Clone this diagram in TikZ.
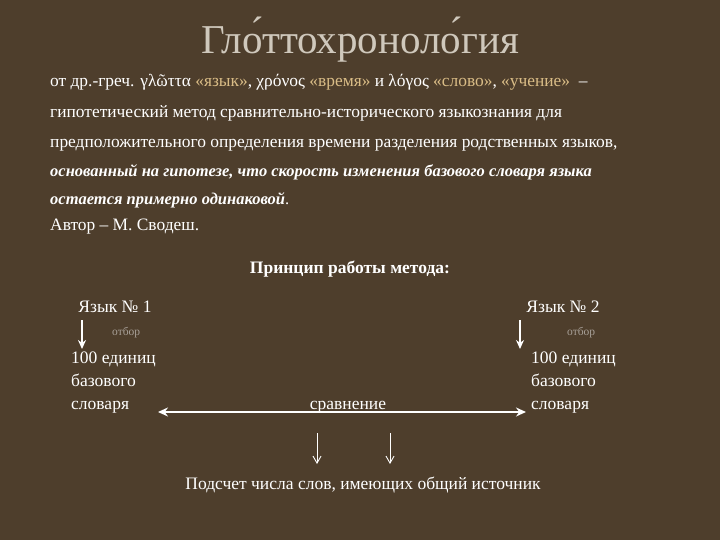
\documentclass[tikz,border=0pt]{standalone}
\usepackage{fontspec}
\setmainfont{Liberation Serif}
\usetikzlibrary{arrows.meta}
\definecolor{bg}{HTML}{4E3E2C}
\definecolor{ttl}{HTML}{CFC8BC}
\definecolor{tan}{HTML}{D9BC86}
\definecolor{gr}{HTML}{A8A098}
\tikzset{
 body/.style={text=white,anchor=base west,inner sep=0pt,font=\fontsize{17.4}{17.4}\selectfont},
 ctr/.style={text=white,anchor=base,inner sep=0pt,font=\fontsize{17.5}{17.5}\selectfont},
 small/.style={text=gr,anchor=base west,inner sep=0pt,font=\fontsize{11.5}{11.5}\selectfont},
 arr/.style={white,line width=1.5pt,-{Stealth[length=9pt,width=8pt]}},
 thin/.style={white,line width=0.9pt,-{Straight Barb[length=7pt,width=8pt]}}
}
\begin{document}
\begin{tikzpicture}[x=1pt,y=-1pt]
\fill[bg] (0,0) rectangle (720,540);
\useasboundingbox (0,0) rectangle (720,540);
\node[anchor=base,text=ttl,inner sep=0pt,font=\fontsize{41}{41}\selectfont] (title) at (360,54) {Гло́ттохроноло́гия};
\node[body] (l1) at (50,87) {от др.-греч. γλῶττα \textcolor{tan}{«язык»}, χρόνος \textcolor{tan}{«время»} и λόγος \textcolor{tan}{«слово»}, \textcolor{tan}{«учение»} \ –};
\node[body] (l2) at (50,118) {гипотетический метод сравнительно-исторического языкознания для};
\node[body] (l3) at (50,148) {предположительного определения времени разделения родственных языков,};
\node[body,font=\fontsize{16.5}{16.5}\selectfont\bfseries\itshape] (l4) at (50,177) {основанный на гипотезе, что скорость изменения базового словаря языка};
\node[body] (l5) at (50,205) {\fontsize{16.5}{16.5}\selectfont\textbf{\itshape остается примерно одинаковой}.};
\node[body] (l6) at (50,230) {Автор – М. Сводеш.};
\node[ctr,font=\fontsize{17.5}{17.5}\selectfont\bfseries] (pr) at (350,273) {Принцип работы метода:};
\node[ctr] (y1) at (115,312) {Язык № 1};
\node[ctr] (y2) at (563,312) {Язык № 2};
\node[small] (o1) at (112,335) {отбор};
\node[small] (o2) at (567,335) {отбор};
\node[body,align=left,anchor=north west,font=\fontsize{17.5}{23}\selectfont] (w1) at (71,352) {100 единиц\\базового\\словаря};
\node[body,align=left,anchor=north west,font=\fontsize{17.5}{23}\selectfont] (w2) at (531,352) {100 единиц\\базового\\словаря};
\node[ctr] (cmp) at (348,409) {сравнение};
\node[ctr] (res) at (363,489) {Подсчет числа слов, имеющих общий источник};
\coordinate (a1s) at (82,320); \coordinate (a1e) at (82,349);
\coordinate (a2s) at (520,320); \coordinate (a2e) at (520,349);
\coordinate (dl) at (158,412); \coordinate (dr) at (526,412);
\coordinate (b1s) at (317,433); \coordinate (b1e) at (317,464);
\coordinate (b2s) at (390,433); \coordinate (b2e) at (390,464);
\draw[arr] (a1s) -- (a1e);
\draw[arr] (a2s) -- (a2e);
\draw[white,line width=1.5pt,{Stealth[length=10pt,width=9pt]}-{Stealth[length=10pt,width=9pt]}] (dl) -- (dr);
\draw[thin] (b1s) -- (b1e);
\draw[thin] (b2s) -- (b2e);
\end{tikzpicture}
\end{document}
